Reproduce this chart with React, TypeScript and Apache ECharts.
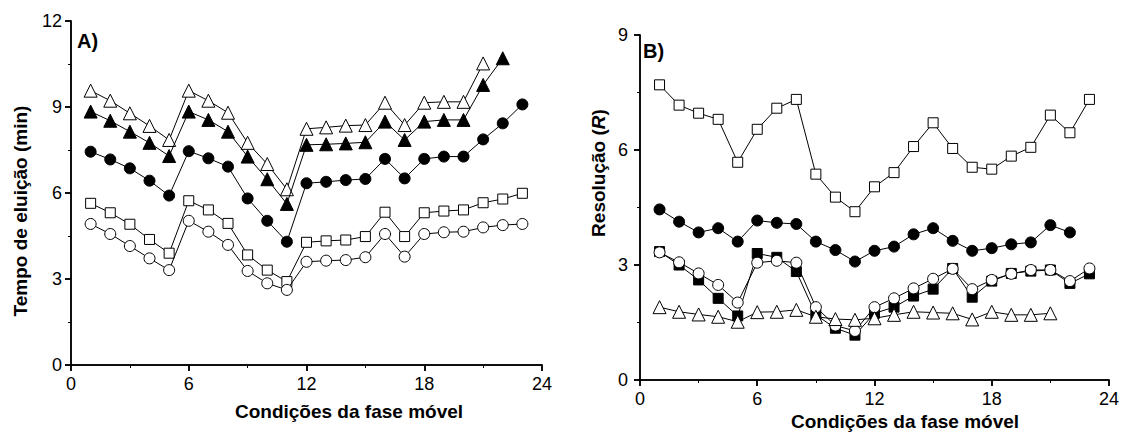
import React, { useEffect, useRef } from "react";
import * as echarts from "echarts";

// Panel A: elution time (min) vs mobile phase condition
const tempoTriAberto = [9.57, 9.22, 8.78, 8.34, 7.85, 9.57, 9.22, 8.8, 7.75, 7.01, 6.13, 8.24, 8.29, 8.35, 8.37, 9.15, 8.37, 9.15, 9.18, 9.18, 10.52];
const tempoTriCheio = [8.84, 8.52, 8.14, 7.75, 7.29, 8.84, 8.55, 8.14, 7.27, 6.48, 5.62, 7.68, 7.7, 7.73, 7.77, 8.49, 7.85, 8.49, 8.55, 8.55, 9.77, 10.7];
const tempoCirculoCheio = [7.44, 7.17, 6.86, 6.43, 5.91, 7.46, 7.21, 6.92, 5.81, 5.03, 4.3, 6.34, 6.39, 6.45, 6.49, 7.19, 6.51, 7.19, 7.27, 7.27, 7.87, 8.43, 9.09];
const tempoQuadAberto = [5.64, 5.31, 4.91, 4.38, 3.9, 5.73, 5.41, 4.94, 3.84, 3.31, 2.91, 4.28, 4.33, 4.36, 4.48, 5.33, 4.48, 5.31, 5.37, 5.41, 5.66, 5.79, 5.99];
const tempoCirculoAberto = [4.92, 4.57, 4.15, 3.72, 3.31, 5.03, 4.65, 4.19, 3.28, 2.85, 2.62, 3.6, 3.64, 3.66, 3.76, 4.57, 3.78, 4.57, 4.63, 4.65, 4.8, 4.88, 4.92];

// Panel B: resolution (R)
const resQuadAberto = [7.7, 7.17, 6.96, 6.8, 5.68, 6.54, 7.09, 7.32, 5.37, 4.77, 4.39, 5.04, 5.41, 6.09, 6.71, 6.04, 5.55, 5.5, 5.84, 6.07, 6.91, 6.45, 7.32];
const resCirculoCheio = [4.45, 4.13, 3.85, 3.96, 3.61, 4.16, 4.1, 4.07, 3.61, 3.39, 3.09, 3.37, 3.48, 3.8, 3.96, 3.63, 3.37, 3.44, 3.54, 3.59, 4.04, 3.85];
const resQuadCheio = [3.35, 3.0, 2.61, 2.13, 1.67, 3.3, 3.2, 2.83, 1.7, 1.35, 1.17, 1.74, 1.9, 2.19, 2.37, 2.91, 2.16, 2.58, 2.78, 2.84, 2.87, 2.52, 2.77];
const resCirculoAberto = [3.33, 3.07, 2.78, 2.48, 2.02, 3.06, 3.11, 3.06, 1.9, 1.42, 1.28, 1.9, 2.13, 2.39, 2.64, 2.9, 2.37, 2.61, 2.77, 2.87, 2.87, 2.58, 2.91];
const resTriAberto = [1.9, 1.78, 1.71, 1.65, 1.52, 1.77, 1.78, 1.83, 1.65, 1.59, 1.57, 1.61, 1.7, 1.78, 1.76, 1.74, 1.58, 1.78, 1.7, 1.7, 1.74];

const xTitle = "Condições da fase móvel";
const yTitleA = "Tempo de eluição (min)";
const yTitleB = "{a|Resolução (}{i|R}{a|)}";

const FONT = "'Liberation Sans', Arial, Helvetica, sans-serif";

export default function App() {
  const ref = useRef<HTMLDivElement>(null);
  useEffect(() => {
    document.body.style.margin = "0";
    const chart = echarts.init(ref.current!, null, { renderer: "svg" });

    const toPts = (arr: number[]) => arr.map((v, i) => [i + 1, v]);
    const mk = (
      name: string,
      arr: number[],
      symbol: string,
      size: number,
      filled: boolean,
      xi: number,
      yi: number,
      z: number
    ) => ({
      name,
      type: "line",
      xAxisIndex: xi,
      yAxisIndex: yi,
      data: toPts(arr),
      symbol,
      symbolSize: size,
      showAllSymbol: true,
      z,
      lineStyle: { color: "#000", width: 1 },
      itemStyle: {
        color: filled ? "#000" : "#fff",
        borderColor: "#000",
        borderWidth: 1,
      },
      emphasis: { disabled: true },
    });

    const axLine = { show: true, lineStyle: { color: "#000", width: 1.5 } };
    const labelStyle = { color: "#000", fontSize: 18, fontFamily: FONT };
    const tick = (inside: boolean) => ({ show: true, inside, length: 6, lineStyle: { color: "#000", width: 1.5 } });
    const minor = { show: true, splitNumber: 2, length: 3, lineStyle: { color: "#000", width: 1 } };

    const xAxisMain = (gi: number) => ({
      type: "value",
      gridIndex: gi,
      min: 0,
      max: 24,
      interval: 6,
      position: "bottom",
      axisLine: axLine,
      axisTick: tick(false),
      minorTick: minor,
      axisLabel: { ...labelStyle, margin: 10 },
      splitLine: { show: false },
    });
    const xAxisTop = (gi: number) => ({
      type: "value",
      gridIndex: gi,
      min: 0,
      max: 24,
      interval: 6,
      position: "top",
      axisLine: axLine,
      axisTick: tick(true),
      minorTick: minor,
      axisLabel: { show: false },
      splitLine: { show: false },
    });
    const yAxisMain = (gi: number, max: number, margin: number) => ({
      type: "value",
      gridIndex: gi,
      min: 0,
      max,
      interval: 3,
      position: "left",
      axisLine: axLine,
      axisTick: tick(false),
      minorTick: minor,
      axisLabel: { ...labelStyle, margin },
      splitLine: { show: false },
    });
    const yAxisRight = (gi: number, max: number) => ({
      type: "value",
      gridIndex: gi,
      min: 0,
      max,
      interval: 3,
      position: "right",
      axisLine: axLine,
      axisTick: tick(true),
      minorTick: minor,
      axisLabel: { show: false },
      splitLine: { show: false },
    });

    const titleStyle = { fontSize: 19, fontWeight: "bold", fontFamily: FONT, fill: "#000" };
    const richR = {
      a: { fontSize: 19, fontWeight: "bold", fontFamily: FONT, color: "#000" },
      i: { fontSize: 19, fontWeight: "bold", fontStyle: "italic", fontFamily: FONT, color: "#000" },
    };
    const ctext = (x: number, y: number, text: string, rot: number, extra: any = {}) => ({
      type: "text",
      x,
      y,
      rotation: rot,
      style: {
        text,
        ...titleStyle,
        align: "center",
        verticalAlign: "middle",
        textAlign: "center",
        textVerticalAlign: "middle",
        ...extra,
      },
    });

    chart.setOption({
      animation: false,
      textStyle: { fontFamily: FONT },
      grid: [
        { left: 71, top: 21, right: 580, bottom: 67 },
        { left: 640, top: 35, right: 10, bottom: 52 },
      ],
      xAxis: [xAxisMain(0), xAxisTop(0), xAxisMain(1), xAxisTop(1)],
      yAxis: [yAxisMain(0, 12, 9), yAxisRight(0, 12), yAxisMain(1, 9, 12), yAxisRight(1, 9)],
      graphic: [
        ctext(349, 411, xTitle, 0),
        ctext(905, 421, xTitle, 0),
        ctext(20, 211, yTitleA, Math.PI / 2),
        ctext(598, 173, yTitleB, Math.PI / 2, { rich: richR }),
        { type: "text", x: 77, y: 31, style: { text: "A)", fontSize: 20, fontWeight: "bold", fontFamily: FONT, fill: "#000" } },
        { type: "text", x: 643, y: 41, style: { text: "B)", fontSize: 20, fontWeight: "bold", fontFamily: FONT, fill: "#000" } },
      ],
      series: [
        mk("A tri aberto", tempoTriAberto, "triangle", 13, false, 0, 0, 2),
        mk("A tri cheio", tempoTriCheio, "triangle", 13, true, 0, 0, 3),
        mk("A circ cheio", tempoCirculoCheio, "circle", 11, true, 0, 0, 4),
        mk("A quad aberto", tempoQuadAberto, "rect", 10, false, 0, 0, 5),
        mk("A circ aberto", tempoCirculoAberto, "circle", 11, false, 0, 0, 6),
        mk("B quad aberto", resQuadAberto, "rect", 10, false, 2, 2, 2),
        mk("B circ cheio", resCirculoCheio, "circle", 11, true, 2, 2, 3),
        mk("B quad cheio", resQuadCheio, "rect", 10, true, 2, 2, 4),
        mk("B circ aberto", resCirculoAberto, "circle", 11, false, 2, 2, 5),
        mk("B tri aberto", resTriAberto, "triangle", 13, false, 2, 2, 6),
      ],
    });
    return () => chart.dispose();
  }, []);
  return <div ref={ref} style={{ width: 1122, height: 432 }} />;
}
